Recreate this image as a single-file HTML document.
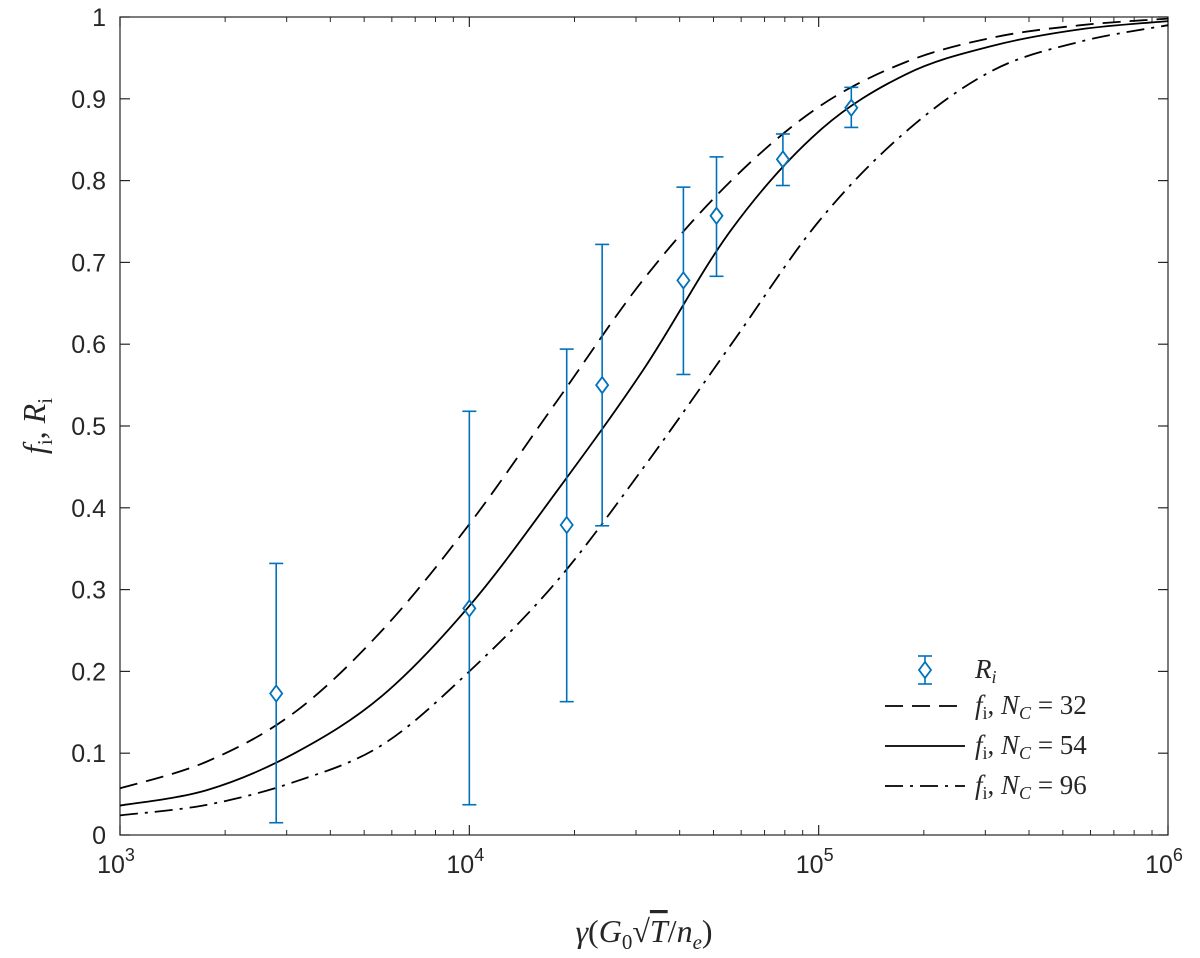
<!DOCTYPE html>
<html><head><meta charset="utf-8"><style>
body{margin:0;background:#fff}
svg{display:block}
.tk{font-family:"Liberation Sans",sans-serif;font-size:25px;fill:#262626}
.mt{font-family:"Liberation Serif",serif;fill:#262626}
</style></head><body>
<svg id="chart" width="1200" height="958" viewBox="0 0 1200 958" xmlns="http://www.w3.org/2000/svg">
<g id="plot"></g>
</svg>
<script>
const curveX=[3.0,3.25,3.5,3.75,4.0,4.25,4.5,4.75,5.0,5.25,5.5,5.75,6.0];
const dashedY=[0.057,0.09,0.15,0.25,0.38,0.53,0.68,0.80,0.89,0.945,0.975,0.99,0.998];
const solidY=[0.036,0.055,0.10,0.17,0.28,0.42,0.57,0.74,0.86,0.93,0.965,0.985,0.995];
const dashdotY=[0.024,0.037,0.065,0.11,0.20,0.31,0.45,0.60,0.75,0.86,0.935,0.97,0.99];
const ptX=[2800,10000,19000,24000,41000,51000,79000,124000];
const ptY=[0.173,0.277,0.379,0.550,0.678,0.757,0.826,0.889];
const ptLo=[0.015,0.037,0.163,0.378,0.563,0.683,0.794,0.865];
const ptHi=[0.332,0.518,0.594,0.722,0.792,0.829,0.857,0.914];
const yTicks=[0,0.1,0.2,0.3,0.4,0.5,0.6,0.7,0.8,0.9,1];
const yTickLabels=["0","0.1","0.2","0.3","0.4","0.5","0.6","0.7","0.8","0.9","1"];
const xTicks=[3,4,5,6];

const L=120,R=1168,T=17,B=835;
const sx=lg=>L+(lg-3)/3*(R-L);
const sy=v=>B-v*(B-T);
const NS="http://www.w3.org/2000/svg";
const g=document.getElementById('plot');
function mk(t,a,p){const e=document.createElementNS(NS,t);for(const k in a)e.setAttribute(k,a[k]);(p||g).appendChild(e);return e;}

const box=mk('rect',{x:L,y:T,width:R-L,height:B-T,fill:'none',stroke:'#262626','stroke-width':1.2});


yTicks.forEach((v,i)=>{
  const y=sy(v);
  mk('line',{x1:L,y1:y,x2:L+10,y2:y,stroke:'#262626','stroke-width':1.2});
  mk('line',{x1:R,y1:y,x2:R-10,y2:y,stroke:'#262626','stroke-width':1.2});
  const t=mk('text',{x:L-14,y:y+9,'text-anchor':'end',class:'tk'});
  t.textContent=yTickLabels[i];
  
  
});
for(let d=3;d<6;d++)for(let m=2;m<10;m++){
  const x=sx(d+Math.log10(m));
  mk('line',{x1:x,y1:B,x2:x,y2:B-5,stroke:'#262626','stroke-width':1});
  mk('line',{x1:x,y1:T,x2:x,y2:T+5,stroke:'#262626','stroke-width':1});
}
xTicks.forEach(d=>{
  const x=sx(d);
  mk('line',{x1:x,y1:B,x2:x,y2:B-10,stroke:'#262626','stroke-width':1.2});
  mk('line',{x1:x,y1:T,x2:x,y2:T+10,stroke:'#262626','stroke-width':1.2});
  const t=mk('text',{x:x-4,y:B+38,'text-anchor':'middle',class:'tk'});
  
  
  t.innerHTML='10<tspan dy="-12" font-size="18">'+d+'</tspan>';
});

function path(ys){
  const P=curveX.map((x,i)=>[sx(x),sy(ys[i])]);
  let d='M'+P[0][0]+','+P[0][1];
  for(let i=0;i<P.length-1;i++){
    const p0=P[i-1]||P[i],p1=P[i],p2=P[i+1],p3=P[i+2]||P[i+1];
    d+=' C'+(p1[0]+(p2[0]-p0[0])/6)+','+(p1[1]+(p2[1]-p0[1])/6)+' '+(p2[0]-(p3[0]-p1[0])/6)+','+(p2[1]-(p3[1]-p1[1])/6)+' '+p2[0]+','+p2[1];
  }
  return d;
}
const c1=mk('path',{d:path(dashedY),fill:'none',stroke:'#000','stroke-width':1.8,'stroke-dasharray':'18,9'});


const c2=mk('path',{d:path(solidY),fill:'none',stroke:'#000','stroke-width':1.8});


const c3=mk('path',{d:path(dashdotY),fill:'none',stroke:'#000','stroke-width':1.8,'stroke-dasharray':'18,7,3,7'});



const blue='#0072BD';
function diamond(x,y,p){return mk('path',{d:`M${x},${y-8} L${x+6},${y} L${x},${y+8} L${x-6},${y} Z`,fill:'none',stroke:blue,'stroke-width':1.8},p);}
ptX.forEach((v,i)=>{
  const x=sx(Math.log10(v));
  const grp=mk('g',{});
  
  
  const y1=sy(ptLo[i]),y2=sy(ptHi[i]),y=sy(ptY[i]);
  mk('line',{x1:x,y1:y2,x2:x,y2:y-8,stroke:blue,'stroke-width':1.6},grp);
  mk('line',{x1:x,y1:y+8,x2:x,y2:y1,stroke:blue,'stroke-width':1.6},grp);
  mk('line',{x1:x-7,y1:y1,x2:x+7,y2:y1,stroke:blue,'stroke-width':1.6},grp);
  mk('line',{x1:x-7,y1:y2,x2:x+7,y2:y2,stroke:blue,'stroke-width':1.6},grp);
  diamond(x,y,grp);
});

const lg=mk('g',{});


const ly=[670,706,746,786];
const e0=mk('g',{},lg);


mk('line',{x1:925,y1:ly[0]-14,x2:925,y2:ly[0]+14,stroke:blue,'stroke-width':1.6},e0);
mk('line',{x1:918,y1:ly[0]-14,x2:932,y2:ly[0]-14,stroke:blue,'stroke-width':1.6},e0);
mk('line',{x1:918,y1:ly[0]+14,x2:932,y2:ly[0]+14,stroke:blue,'stroke-width':1.6},e0);
mk('rect',{x:919,y:ly[0]-8,width:12,height:16,fill:'#fff',stroke:'none'},e0);
diamond(925,ly[0],e0);
const t0=mk('text',{x:975,y:ly[0]+8,class:'mt','font-size':27},e0);
t0.innerHTML='<tspan font-style="italic">R</tspan><tspan font-style="italic" font-size="18" dy="5">i</tspan>';
const styles=[['18,9','32'],[null,'54'],['18,7,3,7','96']];
styles.forEach((s,i)=>{
  const e=mk('g',{},lg);
  
  
  const a={x1:885,y1:ly[i+1],x2:965,y2:ly[i+1],stroke:'#000','stroke-width':1.8};
  if(s[0])a['stroke-dasharray']=s[0];
  mk('line',a,e);
  const t=mk('text',{x:975,y:ly[i+1]+8,class:'mt','font-size':27},e);
  t.innerHTML='<tspan font-style="italic">f</tspan><tspan font-size="18" dy="5">i</tspan><tspan dy="-5">,  </tspan><tspan font-style="italic">N</tspan><tspan font-style="italic" font-size="18" dy="5">C</tspan><tspan dy="-5"> = '+s[1]+'</tspan>';
});

const xt=mk('text',{x:644,y:942,'text-anchor':'middle',class:'mt','font-size':32});


xt.innerHTML='<tspan font-style="italic">γ</tspan>(<tspan font-style="italic">G</tspan><tspan font-size="21" dy="7">0</tspan><tspan dy="-7">√</tspan><tspan font-style="italic" text-decoration="overline">T</tspan>/<tspan font-style="italic">n</tspan><tspan font-style="italic" font-size="21" dy="7">e</tspan><tspan dy="-7">)</tspan>';
const yt=mk('text',{x:0,y:0,'text-anchor':'middle',class:'mt','font-size':32,transform:'translate(45,426) rotate(-90)'});


yt.innerHTML='<tspan font-style="italic">f</tspan><tspan font-size="21" dy="7">i</tspan><tspan dy="-7">, </tspan><tspan font-style="italic">R</tspan><tspan font-size="21" dy="7">i</tspan>';
</script>
</body></html>
